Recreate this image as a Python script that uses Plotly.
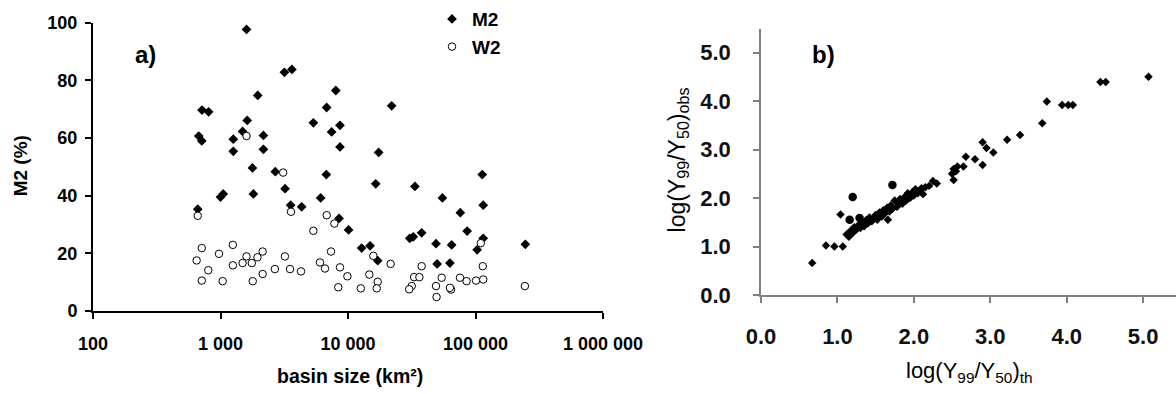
import plotly.graph_objects as go

W, H = 1176, 394

# ---------------- Panel a) data ----------------
m2_size = [663, 675, 713, 716, 807, 1000, 1050, 1260, 1260, 1490, 1620, 1600, 1780, 1810,
           1960, 2170, 2170, 2690, 3170, 3210, 3550, 3630, 4330, 5350, 6100, 6760, 6800,
           7440, 8020, 8650, 8650, 8500, 10100, 12800, 14900, 16500, 17100, 17400, 22000,
           30500, 32500, 33500, 37800, 49000, 50000, 55000, 63000, 65000, 76000, 86000,
           103000, 113000, 115000, 115000, 246000]
m2_val = [35.3, 60.7, 59.0, 69.7, 69.1, 39.5, 40.6, 59.6, 55.4, 62.3, 66.1, 97.7, 49.6, 40.6,
          74.8, 60.9, 56.1, 48.3, 82.8, 42.4, 36.7, 83.8, 36.1, 65.3, 39.2, 47.3, 70.6,
          62.1, 76.5, 64.4, 56.9, 32.1, 28.1, 21.8, 22.6, 44.1, 17.4, 55.0, 71.2,
          25.2, 25.7, 43.2, 27.1, 23.3, 16.3, 39.2, 16.6, 22.9, 34.1, 27.7,
          21.2, 47.3, 36.7, 25.2, 23.1]

w2_size = [650, 663, 713, 713, 802, 973, 1040, 1250, 1250, 1490, 1600, 1600, 1760, 1790,
           1950, 2140, 2140, 2670, 3100, 3200, 3510, 3570, 4280, 5350, 6030, 6600, 6810,
           7360, 7820, 8650, 8390, 9890, 12600, 14700, 15800, 17100, 16800, 21600,
           37800, 33000, 36300, 31600, 30200, 54300, 49000, 49500, 64300, 63000,
           75500, 85100, 101000, 115000, 114000, 110000, 244000]
w2_val = [17.5, 33.0, 21.8, 10.5, 14.1, 19.8, 10.3, 22.9, 15.8, 16.6, 18.9, 60.7, 16.6, 10.3,
          18.6, 20.6, 12.8, 14.5, 48.0, 18.9, 14.5, 34.4, 13.7, 27.8, 16.8, 14.7, 33.2,
          20.6, 30.3, 15.1, 8.2, 12.0, 7.8, 12.6, 19.1, 10.1, 7.8, 16.3,
          15.5, 11.7, 11.7, 8.6, 7.5, 11.5, 8.6, 4.8, 7.4, 8.0,
          11.5, 10.3, 10.5, 10.9, 15.5, 23.5, 8.6]

a_xtickvals = [100, 1000, 10000, 100000, 1000000]
a_xticktext = ["100", "1 000", "10 000", "100 000", "1 000 000"]
a_ytickvals = [0, 20, 40, 60, 80, 100]

# ---------------- Panel b) data ----------------
b_th_diam = [0.67, 0.85, 0.96, 1.07, 1.04,
             1.12, 1.15, 1.17, 1.20, 1.22, 1.25, 1.28, 1.30, 1.33, 1.35, 1.38, 1.40, 1.42,
             1.45, 1.48, 1.50, 1.52, 1.55, 1.58, 1.60, 1.62, 1.65, 1.66, 1.68, 1.70, 1.72,
             1.75, 1.78, 1.80, 1.82, 1.85, 1.88, 1.90, 1.92, 1.95, 1.98, 2.00, 2.02, 2.05,
             2.08, 2.10, 2.12, 2.15, 2.20, 2.25, 2.30, 2.50, 2.52, 2.55, 2.57, 2.52, 2.65,
             2.68, 2.80, 2.90, 2.90, 2.95, 3.04, 3.22, 3.39, 3.68, 3.74, 3.94, 4.02, 4.08,
             4.44, 4.51, 5.07]
b_obs_diam = [0.66, 1.02, 1.00, 1.00, 1.66,
              1.25, 1.20, 1.32, 1.28, 1.40, 1.35, 1.45, 1.38, 1.50, 1.42, 1.55, 1.48, 1.60,
              1.52, 1.58, 1.65, 1.55, 1.70, 1.62, 1.75, 1.68, 1.80, 1.55, 1.72, 1.85, 1.78,
              1.95, 1.82, 1.90, 1.98, 1.88, 2.02, 1.95, 2.10, 2.00, 2.12, 2.05, 2.18, 2.10,
              2.15, 2.20, 2.08, 2.22, 2.25, 2.35, 2.30, 2.50, 2.60, 2.55, 2.65, 2.37, 2.65,
              2.85, 2.80, 2.68, 3.15, 3.03, 2.94, 3.20, 3.30, 3.54, 3.99, 3.92, 3.92, 3.92,
              4.39, 4.39, 4.50]
b_th_circ = [1.20, 1.16, 1.29, 1.72]
b_obs_circ = [2.02, 1.55, 1.59, 2.27]

b_tickvals = [0, 1, 2, 3, 4, 5]
b_ticktext = ["0.0", "1.0", "2.0", "3.0", "4.0", "5.0"]

FONT = "Liberation Sans, Arial, sans-serif"

fig = go.Figure()

fig.add_trace(go.Scatter(
    x=m2_size, y=m2_val, mode="markers", name="M2",
    marker=dict(symbol="diamond", size=7.5, color="black", line=dict(width=0)),
    xaxis="x", yaxis="y", legendgroup="a"))
fig.add_trace(go.Scatter(
    x=w2_size, y=w2_val, mode="markers", name="W2",
    marker=dict(symbol="circle", size=7.5, color="white", line=dict(width=1, color="black")),
    xaxis="x", yaxis="y", legendgroup="b"))

fig.add_trace(go.Scatter(
    x=b_th_diam, y=b_obs_diam, mode="markers", showlegend=False,
    marker=dict(symbol="diamond", size=6.5, color="black", line=dict(width=0)),
    xaxis="x2", yaxis="y2"))
fig.add_trace(go.Scatter(
    x=b_th_circ, y=b_obs_circ, mode="markers", showlegend=False,
    marker=dict(symbol="circle", size=8.5, color="black", line=dict(width=0)),
    xaxis="x2", yaxis="y2"))


def px(x):
    return x / W


def py(y):
    return 1 - y / H


def label(text, x, y, size, bold=True, angle=0):
    return dict(text=text, x=px(x), y=py(y), xref="paper", yref="paper",
                xanchor="center", yanchor="middle", textangle=angle,
                showarrow=False,
                font=dict(size=size, weight="bold" if bold else "normal", family=FONT))


fig.update_layout(
    template="none",
    width=W, height=H,
    margin=dict(l=0, r=0, t=0, b=0, pad=0),
    paper_bgcolor="white", plot_bgcolor="white",
    font=dict(family=FONT, color="black"),
    showlegend=True,
    legend=dict(x=px(432), y=py(-4), xanchor="left", yanchor="top",
                font=dict(size=19, weight="bold", family=FONT),
                bgcolor="rgba(0,0,0,0)", itemwidth=30, tracegroupgap=0),
    xaxis=dict(type="log", range=[2, 6], domain=[px(93), px(603)], anchor="y",
               automargin=False,
               tickvals=a_xtickvals, ticktext=a_xticktext,
               showline=True, linecolor="black", linewidth=2,
               ticks="outside", ticklen=6, tickwidth=2, tickcolor="black",
               ticklabelstandoff=10,
               tickfont=dict(size=18, weight="bold", family=FONT),
               showgrid=False, zeroline=False),
    yaxis=dict(range=[0, 100], domain=[py(310), py(19)], anchor="x",
               automargin=False,
               tickvals=a_ytickvals,
               showline=True, linecolor="black", linewidth=2,
               ticks="outside", ticklen=6, tickwidth=2, tickcolor="black",
               ticklabelstandoff=4,
               tickfont=dict(size=18, weight="bold", family=FONT),
               showgrid=False, zeroline=False),
    xaxis2=dict(range=[0, 5.43], domain=[px(761), 1.0], anchor="y2",
                automargin=False,
                tickvals=b_tickvals, ticktext=b_ticktext,
                showline=True, linecolor="#808080", linewidth=1.5,
                ticks="outside", ticklen=6, tickwidth=1.5, tickcolor="#808080",
                ticklabelstandoff=15,
                tickfont=dict(size=22, weight="bold", family=FONT, color="#111111"),
                showgrid=False, zeroline=False),
    yaxis2=dict(range=[0, 5.49], domain=[py(294), py(25)], anchor="x2",
                automargin=False,
                tickvals=b_tickvals, ticktext=b_ticktext,
                showline=True, linecolor="#808080", linewidth=1.5,
                ticks="outside", ticklen=6, tickwidth=1.5, tickcolor="#808080",
                ticklabelstandoff=18,
                tickfont=dict(size=22, weight="bold", family=FONT, color="#111111"),
                showgrid=False, zeroline=False),
    annotations=[
        label("a)", 145, 51, 24),
        label("b)", 823, 51, 24),
        label("M2 (%)", 20, 164, 19, angle=-90),
        label("basin size (km²)", 350, 376, 19.5),
        label("log(Y<sub>99</sub>/Y<sub>50</sub>)<sub>obs</sub>", 678, 158, 23,
              bold=False, angle=-90),
        label("log(Y<sub>99</sub>/Y<sub>50</sub>)<sub>th</sub>", 969, 372, 22, bold=False),
    ],
)

fig.write_html("out.html")
